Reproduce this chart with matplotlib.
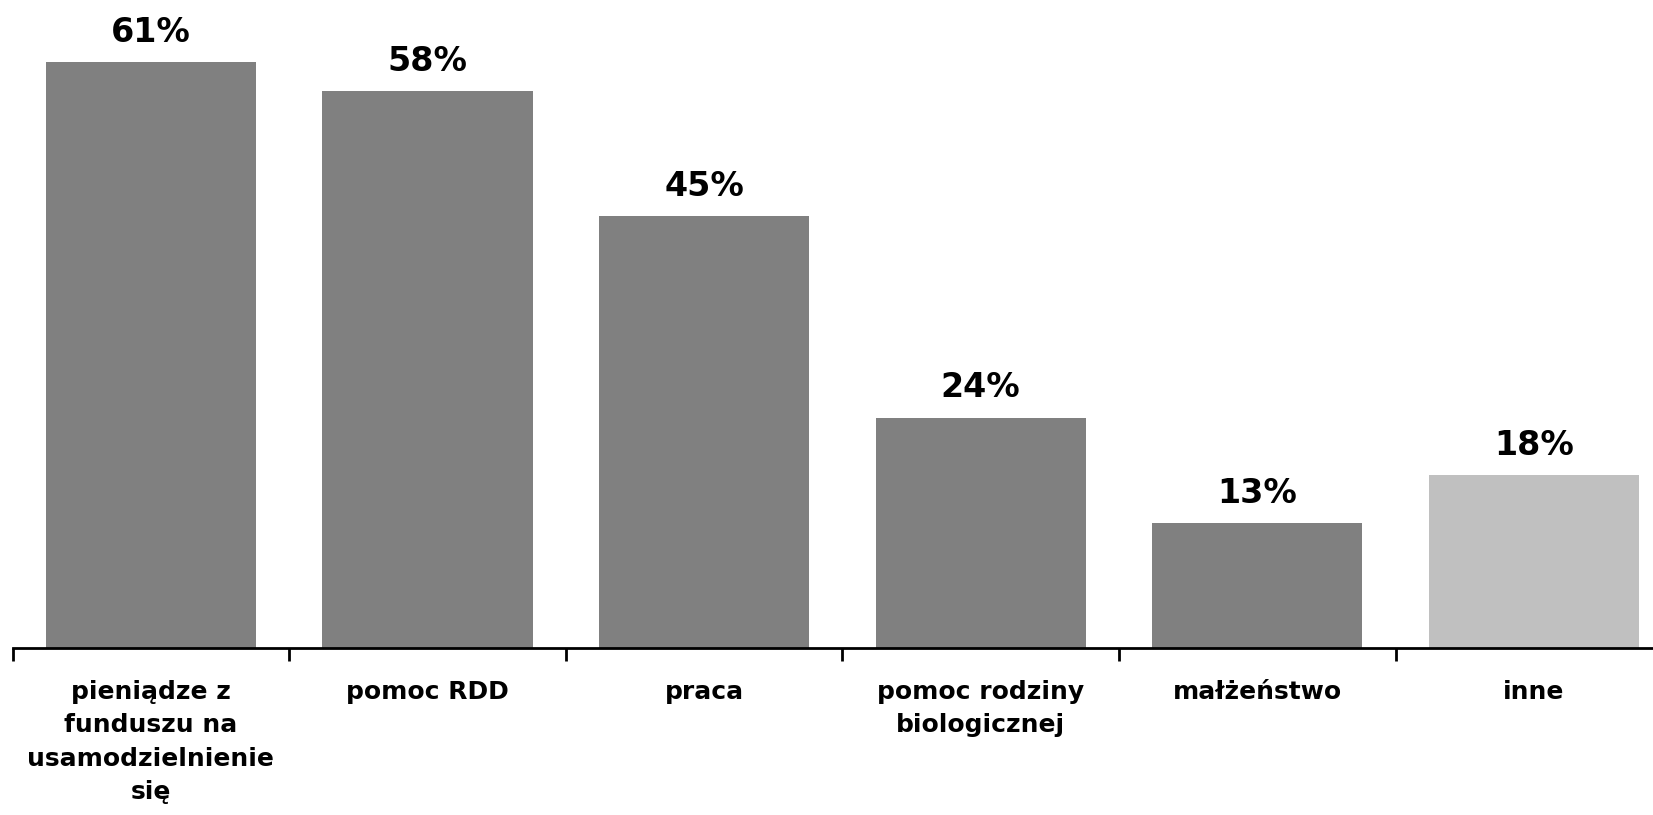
import matplotlib.pyplot as plt

# dane
categories = [
    "pieniądze z\nfunduszu na\nusamodzielnienie\nsię",
    "pomoc RDD",
    "praca",
    "pomoc rodziny\nbiologicznej",
    "małżeństwo",
    "inne",
]
values = [61, 58, 45, 24, 13, 18]
colors = ["#808080", "#808080", "#808080", "#808080", "#808080", "#C0C0C0"]

plt.rcParams['font.family'] = ['DejaVu Sans']

fig = plt.figure(figsize=(16.53, 8.15), dpi=100)
ax = fig.add_axes([0.0076, 0.2049, 1.004, 0.7656])

x = range(len(categories))
bars = ax.bar(x, values, width=0.76, color=colors)

for bar, v in zip(bars, values):
    ax.text(bar.get_x() + bar.get_width() / 2, v + 1.4, f"{v}%",
            ha='center', va='bottom', fontsize=24, fontweight='bold')

ax.set_xlim(-0.5, len(categories) - 0.5)
ax.set_ylim(0, 65)

# ticks between categories
ax.set_xticks([i - 0.5 for i in range(len(categories))], minor=False)
ax.set_xticklabels([])
ax.set_xticks(list(x), minor=True)
ax.set_xticklabels(categories, minor=True, fontsize=18, fontweight='bold',
                   linespacing=1.5)
ax.tick_params(axis='x', which='major', length=9, width=2, direction='out')
ax.tick_params(axis='x', which='minor', length=0, pad=23)
ax.set_yticks([])

for s in ['top', 'right', 'left']:
    ax.spines[s].set_visible(False)
ax.spines['bottom'].set_linewidth(2)

fig.savefig('out.png', dpi=100)
